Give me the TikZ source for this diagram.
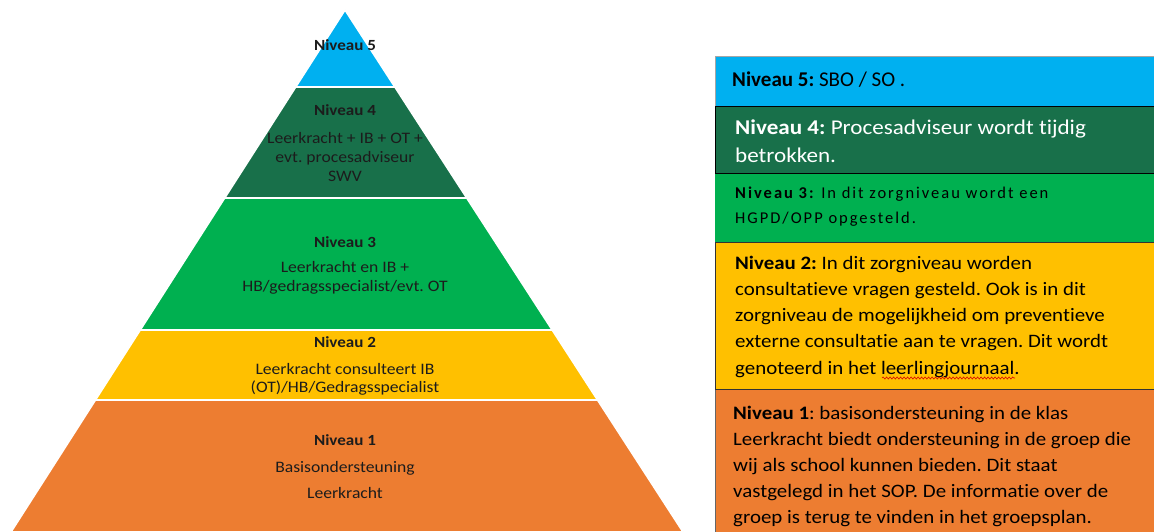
\documentclass[tikz,border=0pt]{standalone}
\usepackage{fontspec}
\setmainfont{Carlito}[FakeStretch=1.1,Ligatures=NoCommon]
\newfontfamily\spacedfont{Carlito}[LetterSpace=12,Ligatures=NoCommon]
\newfontfamily\plainfont{Carlito}[Ligatures=NoCommon]
\usetikzlibrary{calc,decorations.pathmorphing}
\definecolor{lvlfive}{HTML}{00B0F0}
\definecolor{lvlfour}{HTML}{18704A}
\definecolor{lvlthree}{HTML}{00B050}
\definecolor{lvltwo}{HTML}{FFC000}
\definecolor{lvlone}{HTML}{ED7D31}
\definecolor{txtdark}{HTML}{1C1C1C}
\frenchspacing
\begin{document}
\begin{tikzpicture}[x=1pt,y=-1pt,
  layer/.style={draw=white,line width=1.6pt},
  pyrtitle/.style={inner sep=0pt,text=txtdark,font=\fontsize{15.5}{20}\selectfont\bfseries},
  pyrbody/.style={inner sep=0pt,align=center,text=txtdark},
  sidebox/.style={line width=0.8pt},
  sidetext/.style={inner sep=0pt,anchor=north west,align=left}]
\useasboundingbox (0,0) rectangle (1154,532);
\fill[white] (0,0) rectangle (1154,532);
% pyramid
\coordinate (A) at (345,10);
\coordinate (BL) at (11,532);
\coordinate (BR) at (683,532);
\coordinate (L1) at ($(A)!0.1475!(BL)$);
\coordinate (R1) at ($(A)!0.1475!(BR)$);
\coordinate (L2) at ($(A)!0.3602!(BL)$);
\coordinate (R2) at ($(A)!0.3602!(BR)$);
\coordinate (L3) at ($(A)!0.6130!(BL)$);
\coordinate (R3) at ($(A)!0.6130!(BR)$);
\coordinate (L4) at ($(A)!0.7471!(BL)$);
\coordinate (R4) at ($(A)!0.7471!(BR)$);
\filldraw[layer,fill=lvlfive] (A) -- (R1) -- (L1) -- cycle;
\filldraw[layer,fill=lvlfour] (L1) -- (R1) -- (R2) -- (L2) -- cycle;
\filldraw[layer,fill=lvlthree] (L2) -- (R2) -- (R3) -- (L3) -- cycle;
\filldraw[layer,fill=lvltwo] (L3) -- (R3) -- (R4) -- (L4) -- cycle;
\filldraw[layer,fill=lvlone] (L4) -- (R4) -- (BR) -- (BL) -- cycle;
% pyramid texts
\node[pyrtitle] (p5t) at (345,45) {Niveau 5};
\node[pyrtitle] (p4t) at (345,110) {Niveau 4};
\node[pyrbody,font=\fontsize{16}{18.5}\selectfont] (p4b) at (345,157) {Leerkracht + IB + OT +\\evt. procesadviseur\\SWV};
\node[pyrtitle] (p3t) at (345,242) {Niveau 3};
\node[pyrbody,font=\fontsize{16}{19}\selectfont] (p3b) at (345,278) {Leerkracht en IB +\\HB/gedragsspecialist/evt. OT};
\node[pyrtitle] (p2t) at (345,342) {Niveau 2};
\node[pyrbody,font=\fontsize{16}{18}\selectfont] (p2b) at (345,379) {Leerkracht consulteert IB\\(OT)/HB/Gedragsspecialist};
\node[pyrtitle] (p1t) at (345,440) {Niveau 1};
\node[pyrbody,font=\fontsize{16}{26}\selectfont] (p1b) at (345,480) {Basisondersteuning\\Leerkracht};
% side boxes
\filldraw[sidebox,fill=lvlfive,draw=gray!70] (715,56) rectangle (1160,106);
\fill[lvlthree] (715,173) rectangle (1160,242);
\filldraw[sidebox,fill=lvlfour,draw=black] (715,106) rectangle (1160,173);
\filldraw[sidebox,fill=lvlone,draw=gray!80!black] (715,389) rectangle (1160,540);
\filldraw[sidebox,fill=lvltwo,draw=black!80] (715,242) rectangle (1160,389);
% side texts
\node[inner sep=0pt,anchor=west,font=\plainfont\fontsize{21}{24}\selectfont] (s5) at (732,80) {\textbf{Niveau 5:} SBO / SO .};
\node[sidetext,text=white,font=\fontsize{21}{28.5}\selectfont] (s4) at (735,119.5) {\textbf{Niveau 4:} Procesadviseur wordt tijdig\\betrokken.};
\node[sidetext,font=\spacedfont\fontsize{16.5}{25}\selectfont] (s3) at (735,186.5) {\textbf{Niveau 3:} In dit zorgniveau wordt een\\HGPD/OPP opgesteld.};
\node[sidetext,font=\fontsize{19}{26.3}\selectfont] (s2) at (735,255.5) {\textbf{Niveau 2:} In dit zorgniveau worden\\consultatieve vragen gesteld. Ook is in dit\\zorgniveau de mogelijkheid om preventieve\\externe consultatie aan te vragen. Dit wordt\\genoteerd in het leerlingjournaal.};
\node[sidetext,font=\fontsize{19}{26}\selectfont] (s1) at (733,405.5) {\textbf{Niveau 1}: basisondersteuning in de klas\\Leerkracht biedt ondersteuning in de groep die\\wij als school kunnen bieden. Dit staat\\vastgelegd in het SOP. De informatie over de\\groep is terug te vinden in het groepsplan.};
% spell-check underline
\coordinate (wl) at (882,378);
\coordinate (wr) at (1015,378);
\draw[red!85!black,line width=0.6pt,decorate,decoration={snake,amplitude=1pt,segment length=3.5pt}] (wl) -- (wr);
\end{tikzpicture}
\end{document}
